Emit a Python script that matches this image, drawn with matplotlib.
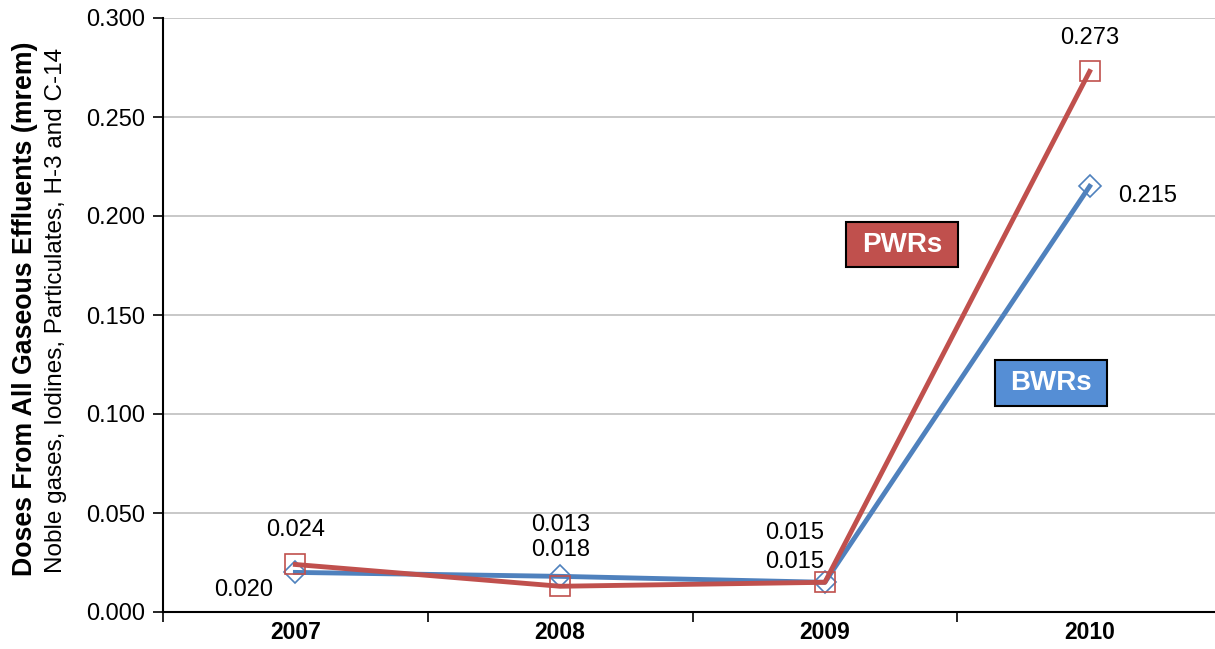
import matplotlib
matplotlib.use("Agg")
import matplotlib.pyplot as plt
from matplotlib.patches import Rectangle
from matplotlib import font_manager

years = ["2007", "2008", "2009", "2010"]
bwr = [0.020, 0.018, 0.015, 0.215]
pwr = [0.024, 0.013, 0.015, 0.273]
yticks = [0.000, 0.050, 0.100, 0.150, 0.200, 0.250, 0.300]

names = {f.name for f in font_manager.fontManager.ttflist}
base = "Liberation Sans" if "Liberation Sans" in names else "DejaVu Sans"
narrow = "Liberation Sans Narrow" if "Liberation Sans Narrow" in names else base
plt.rcParams['font.family'] = [base, 'DejaVu Sans']

W, H = 1215, 649
fig = plt.figure(figsize=(W / 100, H / 100), dpi=100)
ax_l, ax_r, ax_t, ax_b = 163, 1222, 18, 612
ax = fig.add_axes([ax_l / W, 1 - ax_b / H, (ax_r - ax_l) / W, (ax_b - ax_t) / H])

red = "#C0504D"
blue = "#4F81BD"
x = list(range(len(years)))

ax.plot(x, bwr, color=blue, lw=3.5, marker="D", markersize=11.5, markerfacecolor="none",
        markeredgecolor=blue, markeredgewidth=1.2, zorder=3)
ax.plot(x, pwr, color=red, lw=3.5, marker="s", markersize=15, markerfacecolor="none",
        markeredgecolor=red, markeredgewidth=1.2, zorder=4)

ax.set_xlim(-0.5, 3.5)
ax.set_ylim(0, 0.3)
ax.set_yticks(yticks)
ax.set_yticklabels([f"{v:.3f}" for v in yticks], fontsize=17)
ax.set_xticks(x)
ax.set_xticklabels(years, fontsize=16.5, fontweight="bold")
ax.set_xticks([-0.5, 0.5, 1.5, 2.5], minor=True)
ax.tick_params(axis="x", which="major", length=0, pad=15)
ax.tick_params(axis="x", which="minor", length=7, width=1.2, direction="out", color="black")
ax.tick_params(axis="y", length=7, width=1.2, direction="out", pad=6)
for lbl in ax.get_xticklabels():
    lbl.set_verticalalignment("center")

ax.grid(axis="y", color="#BFBFBF", lw=1.2)
ax.set_axisbelow(True)
for s in ["top", "right"]:
    ax.spines[s].set_visible(False)
for s in ["left", "bottom"]:
    ax.spines[s].set_linewidth(1.5)
    ax.spines[s].set_color("black")

# data labels (value, x index, offset pixels)
labels = [
    (pwr[0], 0, 0, 34), (bwr[0], 0, -52, -18),
    (pwr[1], 1, 0, 61), (bwr[1], 1, 0, 26),
    (pwr[2], 2, -30, 49), (bwr[2], 2, -30, 20),
    (pwr[3], 3, 0, 33), (bwr[3], 3, 58, -10),
]
for v, i, dx, dy in labels:
    ax.annotate(f"{v:.3f}", (i, v), xytext=(dx, dy), textcoords="offset pixels",
                ha="center", va="center", fontsize=17)

# series label boxes
def box(x0, x1, y0, y1, color, text):
    X0 = (x0 - ax_l) / (ax_r - ax_l)
    X1 = (x1 - ax_l) / (ax_r - ax_l)
    Y0 = (ax_b - y1) / (ax_b - ax_t)
    Y1 = (ax_b - y0) / (ax_b - ax_t)
    ax.add_patch(Rectangle((X0, Y0), X1 - X0, Y1 - Y0, transform=ax.transAxes,
                           facecolor=color, edgecolor="black", lw=1.5, zorder=5))
    ax.text((X0 + X1) / 2, (Y0 + Y1) / 2, text, transform=ax.transAxes, ha="center",
            va="center", color="white", fontsize=20, fontweight="bold", zorder=6)

box(846, 958, 222, 267, red, "PWRs")
box(995, 1107, 360, 406, "#558ED5", "BWRs")

fig.text(25 / W, 1 - 309 / H, "Doses From All Gaseous Effluents (mrem)", rotation=90,
         ha="center", va="center", fontsize=19.3, fontweight="bold")
fig.text(56 / W, 1 - 310 / H, "Noble gases, Iodines, Particulates, H-3 and C-14", rotation=90,
         ha="center", va="center", fontsize=17.5, family=[narrow, 'DejaVu Sans'])

fig.savefig("out.png", dpi=100)
